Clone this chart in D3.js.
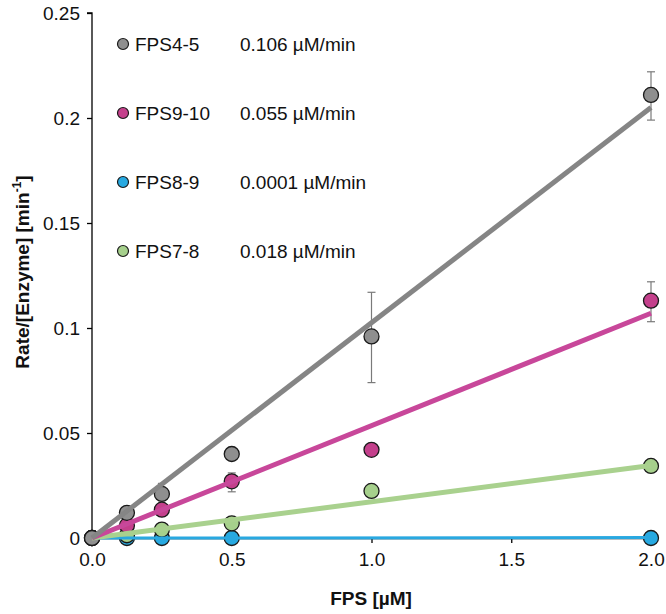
<!DOCTYPE html>
<html><head><meta charset="utf-8">
<script src="https://cdn.jsdelivr.net/npm/d3@7"></script>
<style>body{margin:0;background:#fff}svg{display:block;font-family:"Liberation Sans",Arial,sans-serif}</style>
</head><body><svg id="c" width="666" height="614"></svg>
<script>
const seriesNames = ["FPS4-5","FPS9-10","FPS8-9","FPS7-8"];
const rateLabels = ["0.106 µM/min","0.055 µM/min","0.0001 µM/min","0.018 µM/min"];
const colors = ["#8f8f8f","#c4408c","#27a9e1","#a6d08c"];
const lineColors = ["#858585","#c8479a","#29a8e0","#a9d18e"];
const xs = [0,0.125,0.25,0.5,1.0,2.0];
const gray = [0,0.012,0.021,0.040,0.096,0.211];
const magenta = [0,0.006,0.0135,0.027,0.042,0.113];
const blue = [0,0,0,0,null,0];
const green = [0,0.0013,0.004,0.007,0.0224,0.0343];
const trendEnd = [0.205,0.107,0.0002,0.0345]; // trendline value at x=2
const errGray = [null,null,[0.021,0.026],null,[0.074,0.117],[0.199,0.222]];
const errMagenta = [null,null,null,[0.022,0.031],null,[0.103,0.122]];
const errBlue = [null,null,null,null,null,null];
const errGreen = [null,null,null,null,null,null];
const xTicks = [0,0.5,1.0,1.5,2.0];
const yTicks = [0,0.05,0.1,0.15,0.2,0.25];

const values = [gray,magenta,blue,green];
const errs = [errGray,errMagenta,errBlue,errGreen];
const svg = d3.select("#c");
const x = d3.scaleLinear().domain([0,2]).range([92,651]);
const y = d3.scaleLinear().domain([0,0.25]).range([538,13]);

// axes
const ya = svg.append("g").attr("transform","translate(92,0)")
  .call(d3.axisLeft(y).tickValues(yTicks).tickSize(5).tickPadding(7).tickFormat(d=>d===0?"0":String(+d.toFixed(2))));
const xa = svg.append("g").attr("transform","translate(0,538)")
  .call(d3.axisBottom(x).tickValues(xTicks).tickSize(5).tickPadding(10).tickFormat(d3.format(".1f")));
[ya,xa].forEach(g=>{
  g.select(".domain").attr("stroke","#000").attr("stroke-width",1.3);
  g.selectAll(".tick line").attr("stroke","#000").attr("stroke-width",1.3);
  g.selectAll(".tick text").attr("font-size",19).attr("fill","#111").attr("font-family","Liberation Sans, Arial, sans-serif");
});
ya.selectAll(".domain").attr("d","M0,538V13H-5");

// error bars
errs.forEach((e,si)=>{
  e.forEach((r,i)=>{
    if(!r) return;
    const g = svg.append("g").attr("stroke","#7a7a7a").attr("stroke-width",1.2);
    g.append("line").attr("x1",x(xs[i])).attr("x2",x(xs[i])).attr("y1",y(r[0])).attr("y2",y(r[1]));
    g.append("line").attr("x1",x(xs[i])-4).attr("x2",x(xs[i])+4).attr("y1",y(r[0])).attr("y2",y(r[0]));
    g.append("line").attr("x1",x(xs[i])-4).attr("x2",x(xs[i])+4).attr("y1",y(r[1])).attr("y2",y(r[1]));
  });
});

// markers
[2,3,1,0].forEach(si=>{
  svg.append("g").selectAll("circle")
    .data(xs.map((v,i)=>[v,values[si][i]]).filter(d=>d[1]!==null))
    .join("circle").attr("cx",d=>x(d[0])).attr("cy",d=>y(d[1])).attr("r",7.5)
    .attr("fill",colors[si]).attr("stroke","#1a1a1a").attr("stroke-width",1.3);
});

// trendlines
[2,3,1,0].forEach(si=>{
  svg.append("line").attr("x1",x(0)).attr("y1",y(0)).attr("x2",x(2)).attr("y2",y(trendEnd[si]))
    .attr("stroke",lineColors[si]).attr("stroke-width",si===2?3:5).attr("stroke-linecap","butt");
});

// legend
const rowsY = [44,113,182,251];
seriesNames.forEach((n,i)=>{
  svg.append("circle").attr("cx",123).attr("cy",rowsY[i]).attr("r",5.5)
    .attr("fill",colors[i]).attr("stroke","#1a1a1a").attr("stroke-width",1.2);
  svg.append("text").attr("x",135).attr("y",rowsY[i]+7).attr("font-size",19).attr("fill","#111").text(n);
  svg.append("text").attr("x",240).attr("y",rowsY[i]+7).attr("font-size",19).attr("fill","#111").text(rateLabels[i]);
});

// axis titles
svg.append("text").attr("x",371).attr("y",605).attr("text-anchor","middle")
  .attr("font-size",19).attr("font-weight","bold").attr("fill","#111").text("FPS [µM]");
const yt = svg.append("text").attr("transform","translate(29,272) rotate(-90)").attr("text-anchor","middle")
  .attr("font-size",19).attr("font-weight","bold").attr("fill","#111");
yt.append("tspan").text("Rate/[Enzyme] [min");
yt.append("tspan").attr("dy",-8).attr("font-size",12).text("-1");
yt.append("tspan").attr("dy",8).text("]");
</script></body></html>
